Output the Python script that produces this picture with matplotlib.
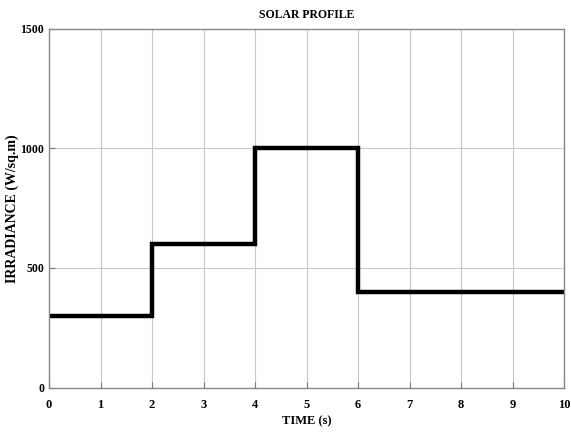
import matplotlib
matplotlib.use("Agg")
import matplotlib.pyplot as plt

# step profile of irradiance
time_s = [0, 2, 4, 6, 10]
irradiance = [300, 600, 1000, 400, 400]

plt.rcParams['font.family'] = ['Liberation Serif', 'DejaVu Serif']
plt.rcParams['font.weight'] = 'bold'

fig = plt.figure(figsize=(5.71, 4.32), dpi=100)
ax = fig.add_axes([0.086, 0.103, 0.902, 0.830])

ax.step(time_s, irradiance, where='post', color='k', lw=3.2, solid_joinstyle='miter')

ax.set_xlim(0, 10)
ax.set_ylim(0, 1500)
ax.set_xticks(range(0, 11))
ax.set_yticks([0, 500, 1000, 1500])
ax.grid(True, color='#c8c8c8', lw=0.8)
ax.tick_params(direction='in', length=4, color='#777777', labelsize=9)
ax.tick_params(axis='x', pad=8)
ax.tick_params(axis='y', labelsize=8.5)
for lbl in ax.get_xticklabels() + ax.get_yticklabels():
    lbl.set_fontweight('bold')
for s in ax.spines.values():
    s.set_color('#888888')
    s.set_linewidth(1.0)

ax.set_title("SOLAR PROFILE", fontsize=8.5, fontweight='bold', pad=8)
ax.set_xlabel("TIME (s)", fontsize=9, fontweight='bold', labelpad=3)
ax.set_ylabel("IRRADIANCE (W/sq.m)", fontsize=10, fontweight='bold')
ax.yaxis.set_label_coords(-0.058, 0.5)

fig.savefig("out.png", dpi=100)
